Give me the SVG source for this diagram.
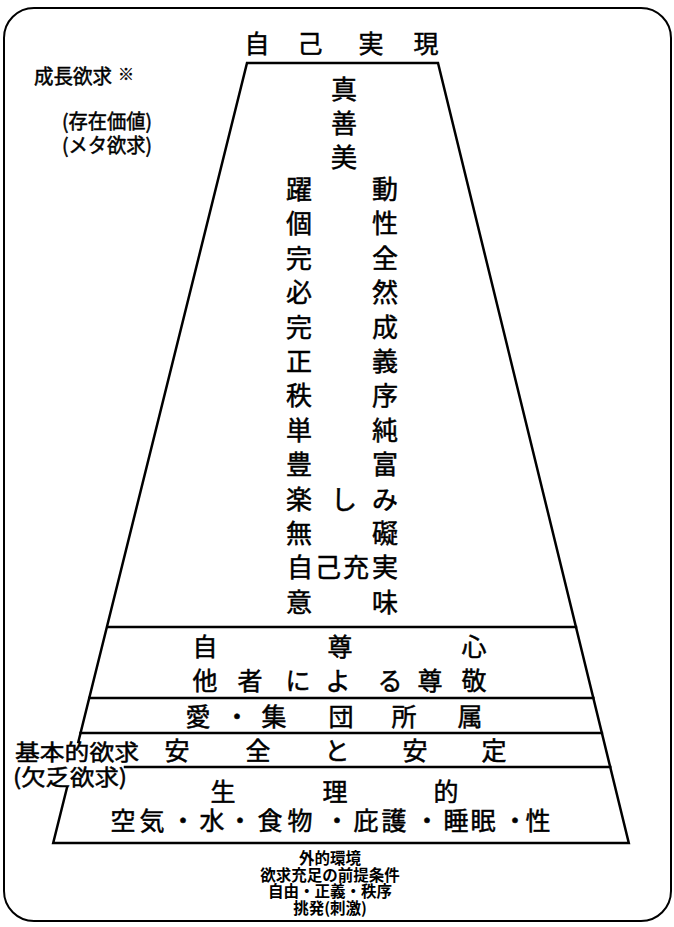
<svg xmlns="http://www.w3.org/2000/svg" width="674" height="927" viewBox="0 0 674 927">
<style>
.ln{stroke:#000;stroke-width:2.5;fill:none;stroke-linecap:square}
.fr{stroke:#000;stroke-width:2;fill:none}
text{font-family:"Noto Sans CJK JP","Noto Sans CJK SC",sans-serif;fill:#000;stroke:#000;stroke-width:0.5}
.c{font-size:26px;text-anchor:middle}
.b{font-size:25px;text-anchor:middle}
.t{font-size:25px;text-anchor:middle}
.l{font-size:20px}
.k{font-size:22px}
.s{font-size:15.5px;font-weight:700;text-anchor:middle;stroke-width:0}
</style>
<rect width="674" height="927" fill="#fff"/>
<g id="frame"><rect class="fr" x="4" y="8" width="667" height="913" rx="30" ry="30"/></g>
<g id="connectors">
<path class="ln" d="M78.3,742 L247,63 L438,63 L628.8,843 L53.2,843 L66.9,788"/>
<line class="ln" x1="107.9" y1="627" x2="576" y2="627"/>
<line class="ln" x1="89.3" y1="698" x2="593.3" y2="698"/>
<line class="ln" x1="80.6" y1="733" x2="601.9" y2="733"/>
<line class="ln" x1="125" y1="767" x2="610.2" y2="767"/>
</g>
<g id="self-actualization">
<text class="t" x="257" y="53">自</text>
<text class="t" x="310" y="53">己</text>
<text class="t" x="371" y="53">実</text>
<text class="t" x="426" y="53">現</text>
<text class="c" x="344" y="99">真</text>
<text class="c" x="344" y="133">善</text>
<text class="c" x="344" y="167">美</text>
<text class="c" x="299" y="199">躍</text><text class="c" x="385" y="199">動</text>
<text class="c" x="299" y="233">個</text><text class="c" x="385" y="233">性</text>
<text class="c" x="299" y="268">完</text><text class="c" x="385" y="268">全</text>
<text class="c" x="299" y="302">必</text><text class="c" x="385" y="302">然</text>
<text class="c" x="299" y="337">完</text><text class="c" x="385" y="337">成</text>
<text class="c" x="299" y="371">正</text><text class="c" x="385" y="371">義</text>
<text class="c" x="299" y="405">秩</text><text class="c" x="385" y="405">序</text>
<text class="c" x="299" y="440">単</text><text class="c" x="385" y="440">純</text>
<text class="c" x="299" y="474">豊</text><text class="c" x="385" y="474">富</text>
<text class="c" x="299" y="509">楽</text><text class="c" x="344" y="509">し</text><text class="c" x="385" y="509">み</text>
<text class="c" x="299" y="543">無</text><text class="c" x="385" y="543">礙</text>
<text class="c" x="300" y="577">自</text><text class="c" x="328" y="577">己</text><text class="c" x="356" y="577">充</text><text class="c" x="385" y="577">実</text>
<text class="c" x="299" y="612">意</text><text class="c" x="385" y="612">味</text>
</g>
<g id="esteem">
<text class="b" x="205" y="656">自</text><text class="b" x="340" y="656">尊</text><text class="b" x="474" y="656">心</text>
<text class="b" x="205" y="690">他</text><text class="b" x="250" y="690">者</text><text class="b" x="298" y="690">に</text><text class="b" x="338" y="690">よ</text><text class="b" x="390" y="690">る</text><text class="b" x="430" y="690">尊</text><text class="b" x="474" y="690">敬</text>
</g>
<g id="love">
<text class="b" x="198" y="726">愛</text><text class="b" x="237" y="726">・</text><text class="b" x="274" y="726">集</text><text class="b" x="341" y="726">団</text><text class="b" x="404" y="726">所</text><text class="b" x="470" y="726">属</text>
</g>
<g id="safety">
<text class="b" x="177" y="760">安</text><text class="b" x="258" y="760">全</text><text class="b" x="337" y="760">と</text><text class="b" x="415" y="760">安</text><text class="b" x="494" y="760">定</text>
</g>
<g id="physiological">
<text class="b" x="223" y="801">生</text><text class="b" x="335" y="801">理</text><text class="b" x="446" y="801">的</text>
<text class="b" x="123" y="830">空</text><text class="b" x="152" y="830">気</text><text class="b" x="183" y="830">・</text><text class="b" x="212" y="830">水</text><text class="b" x="240" y="830">・</text><text class="b" x="270" y="830">食</text><text class="b" x="300" y="830">物</text><text class="b" x="337" y="830">・</text><text class="b" x="366" y="830">庇</text><text class="b" x="394" y="830">護</text><text class="b" x="427" y="830">・</text><text class="b" x="456" y="830">睡</text><text class="b" x="483" y="830">眠</text><text class="b" x="515" y="830">・</text><text class="b" x="538" y="830">性</text>
</g>
<g id="growth-label">
<text class="l" x="34" y="84" textLength="78" lengthAdjust="spacingAndGlyphs">成長欲求</text>
<text x="118" y="80" style="font-size:16px;stroke-width:0.3">※</text>
<text class="l" x="62" y="129" textLength="90" lengthAdjust="spacingAndGlyphs">(存在価値)</text>
<text class="l" x="62" y="153" textLength="90" lengthAdjust="spacingAndGlyphs">(メタ欲求)</text>
</g>
<g id="basic-label">
<text class="k" x="15" y="760" textLength="124" lengthAdjust="spacingAndGlyphs">基本的欲求</text>
<text class="k" x="13" y="785" textLength="114" lengthAdjust="spacingAndGlyphs">(欠乏欲求)</text>
</g>
<g id="preconditions">
<text class="s" x="330" y="864">外的環境</text>
<text class="s" x="330" y="880.5">欲求充足の前提条件</text>
<text class="s" x="330" y="897">自由・正義・秩序</text>
<text class="s" x="330" y="913.5">挑発(刺激)</text>
</g>
</svg>
